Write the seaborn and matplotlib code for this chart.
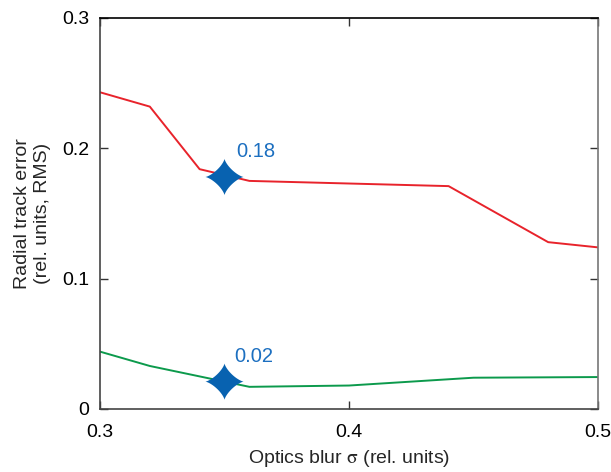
import numpy as np
import pandas as pd
import matplotlib
matplotlib.use("Agg")
import matplotlib.pyplot as plt
from matplotlib.path import Path
import seaborn as sns

# values
blur_red = [0.30, 0.32, 0.34, 0.36, 0.44, 0.48, 0.50]
err_red = [0.243, 0.232, 0.184, 0.175, 0.171, 0.128, 0.124]
blur_green = [0.30, 0.32, 0.36, 0.40, 0.45, 0.50]
err_green = [0.044, 0.033, 0.017, 0.018, 0.024, 0.0245]
mark_x = [0.35, 0.35]
mark_y = [0.178, 0.021]
mark_labels = ["0.18", "0.02"]
x_ticks = [0.3, 0.4, 0.5]
y_ticks = [0, 0.1, 0.2, 0.3]
y_tick_labels = ["0", "0.1", "0.2", "0.3"]

sns.set_style("ticks")
plt.rcParams['font.family'] = ['Liberation Sans', 'DejaVu Sans']
plt.rcParams['mathtext.fontset'] = 'stix'

# four pointed star with curved sides
t = np.linspace(0, 2 * np.pi, 121)
sx = np.sign(np.cos(t)) * np.abs(np.cos(t)) ** 2.7
sy = np.sign(np.sin(t)) * np.abs(np.sin(t)) ** 2.7
star = Path(np.column_stack([sx, sy * 0.95]))

fig = plt.figure(figsize=(6.11, 4.72), dpi=100)
ax = fig.add_axes([0.1637, 0.1335, 0.815, 0.8284])

red = pd.DataFrame({"x": blur_red, "y": err_red})
green = pd.DataFrame({"x": blur_green, "y": err_green})
sns.lineplot(data=red, x="x", y="y", color="#e8232b", lw=1.4, ax=ax)
sns.lineplot(data=green, x="x", y="y", color="#0c9a4c", lw=1.4, ax=ax)
sns.scatterplot(x=mark_x, y=mark_y, marker=star, s=760, color="#0862b0",
                edgecolor="none", ax=ax, zorder=5)

ax.text(0.3546, 0.1977, mark_labels[0], color="#1c6fc0", fontsize=14.5, va="center", ha="left")
ax.text(0.3538, 0.040, mark_labels[1], color="#1c6fc0", fontsize=14.5, va="center", ha="left")

ax.set_xlim(0.3, 0.5)
ax.set_ylim(0, 0.3)
ax.set_xticks(x_ticks)
ax.set_xticklabels([f"{v:.1f}" for v in x_ticks])
ax.set_yticks(y_ticks)
ax.set_yticklabels(y_tick_labels)
ax.tick_params(direction="in", length=6, width=1, top=True, right=True,
               labelsize=14, colors="#333333", labelcolor="black")
ax.tick_params(axis="x", pad=11)
ax.tick_params(axis="y", pad=8)

for s in ["left", "bottom"]:
    ax.spines[s].set_color("#444444")
ax.spines["top"].set_color("black")
ax.spines["right"].set_color("#777777")
for s in ax.spines.values():
    s.set_linewidth(1.2)

ax.set_xlabel(r"Optics blur $\mathrm{\sigma}$ (rel. units)", fontsize=14, labelpad=5)
ax.set_ylabel("Radial track error\n(rel. units, RMS)", fontsize=14, labelpad=8)

fig.savefig("out.png", dpi=100)
